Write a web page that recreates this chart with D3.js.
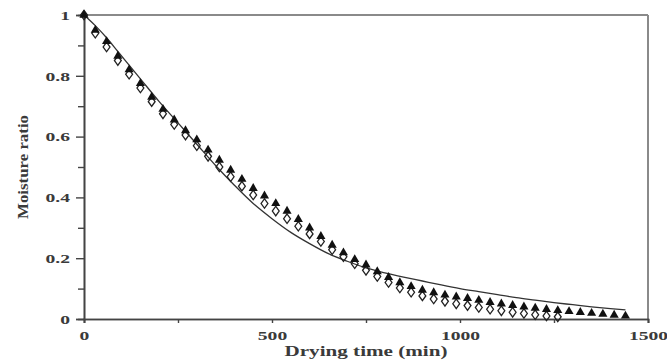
<!DOCTYPE html>
<html><head><meta charset="utf-8">
<script src="https://cdn.jsdelivr.net/npm/d3@7"></script>
<style>body{margin:0;background:#fff}svg{display:block}</style>
</head><body>
<script>
// Data (Moisture ratio vs drying time)
const triTimes = [0,30,60,90,120,150,180,210,240,270,300,330,360,390,420,450,480,510,540,570,600,630,660,690,720,750,780,810,840,870,900,930,960,990,1020,1050,1080,1110,1140,1170,1200,1230,1260,1290,1320,1350,1380,1410,1440];
const triValues = [1.0,0.95,0.913,0.865,0.82,0.775,0.73,0.69,0.655,0.62,0.59,0.556,0.523,0.49,0.46,0.43,0.405,0.38,0.355,0.328,0.30,0.272,0.243,0.218,0.196,0.178,0.156,0.137,0.12,0.107,0.095,0.087,0.079,0.073,0.068,0.062,0.055,0.05,0.045,0.04,0.036,0.032,0.028,0.025,0.022,0.019,0.016,0.013,0.01];
const diaTimes = [0,30,60,90,120,150,180,210,240,270,300,330,360,390,420,450,480,510,540,570,600,630,660,690,720,750,780,810,840,870,900,930,960,990,1020,1050,1080,1110,1140,1170,1200,1230,1260];
const diaValues = [1.0,0.94,0.895,0.85,0.805,0.76,0.715,0.675,0.64,0.605,0.57,0.535,0.50,0.468,0.437,0.408,0.38,0.355,0.33,0.305,0.28,0.255,0.228,0.205,0.182,0.16,0.14,0.12,0.102,0.088,0.076,0.066,0.058,0.05,0.044,0.038,0.032,0.027,0.022,0.018,0.014,0.01,0.007];
const modelTimes = [0,30,60,90,120,150,200,250,300,350,400,450,500,550,600,650,700,750,800,850,900,950,1000,1050,1100,1150,1200,1250,1300,1350,1400,1440];
const modelValues = [1.0,0.965,0.925,0.88,0.835,0.79,0.715,0.645,0.575,0.505,0.44,0.38,0.33,0.285,0.248,0.215,0.19,0.168,0.152,0.138,0.125,0.112,0.10,0.09,0.08,0.07,0.062,0.054,0.047,0.04,0.034,0.03];
const xTickLabels = [0,500,1000,1500];
const yTickLabels = [0,0.2,0.4,0.6,0.8,1];

const W=667,H=362;
const m={l:84,r:19,t:15,b:43};
const svg=d3.select("body").append("svg").attr("width",W).attr("height",H);
const x=d3.scaleLinear().domain([0,1500]).range([m.l,W-m.r]);
const y=d3.scaleLinear().domain([0,1]).range([H-m.b,m.t]);
const font='"Liberation Serif","DejaVu Serif",serif';
const SX=1.45;

// frame top/right
svg.append("line").attr("x1",x(0)).attr("x2",x(1500)).attr("y1",y(1)).attr("y2",y(1)).attr("stroke","#8a8a8a").attr("stroke-width",2);
svg.append("line").attr("x1",x(1500)).attr("x2",x(1500)).attr("y1",y(1)).attr("y2",y(0)).attr("stroke","#8a8a8a").attr("stroke-width",2);

// y axis
const yMinor=svg.append("g").attr("transform",`translate(${x(0)},0)`)
  .call(d3.axisLeft(y).tickValues([0.1,0.3,0.5,0.7,0.9]).tickSize(6).tickFormat(""));
const yAx=svg.append("g").attr("transform",`translate(${x(0)},0)`)
  .call(d3.axisLeft(y).tickValues(yTickLabels).tickSize(8).tickPadding(6).tickFormat(d=>d===0||d===1?d3.format("d")(d):d3.format(".1f")(d)));
// x axis
const xMinor=svg.append("g").attr("transform",`translate(0,${y(0)})`)
  .call(d3.axisBottom(x).tickValues([250,750,1250]).tickSize(4).tickFormat(""));
const xAx=svg.append("g").attr("transform",`translate(0,${y(0)})`)
  .call(d3.axisBottom(x).tickValues(xTickLabels).tickSize(4).tickPadding(7).tickFormat(d3.format("d")));
[yMinor,yAx,xMinor,xAx].forEach(g=>{
  g.select(".domain").attr("stroke","#444").attr("stroke-width",1.6);
  g.selectAll(".tick line").attr("stroke","#444").attr("stroke-width",1.4);
  g.selectAll("text").attr("font-family",font).attr("font-size",13.5).attr("font-weight","bold").attr("fill","#3a3a3a")
    .each(function(){const t=d3.select(this);const xv=+t.attr("x")||0;t.attr("x",xv/SX).attr("transform",`scale(${SX},1)`);});
});

// model line
const line=d3.line().x((d,i)=>x(modelTimes[i])).y((d,i)=>y(modelValues[i])).curve(d3.curveMonotoneX);
svg.append("path").datum(modelValues).attr("d",line).attr("fill","none").attr("stroke","#333").attr("stroke-width",1.3);

// diamonds (open)
const dia=d3.symbol().type(d3.symbolDiamond).size(26);
svg.append("g").selectAll("path").data(diaValues).join("path")
  .attr("transform",(d,i)=>`translate(${x(diaTimes[i])},${y(d)}) scale(1.25,1)`)
  .attr("d",dia).attr("fill","none").attr("stroke","#222").attr("stroke-width",1.1);
// triangles (filled)
const tri=d3.symbol().type(d3.symbolTriangle).size(36);
svg.append("g").selectAll("path").data(triValues).join("path")
  .attr("transform",(d,i)=>`translate(${x(triTimes[i])},${y(d)})`)
  .attr("d",tri).attr("fill","#111");

// titles
svg.append("text").attr("x",(x(0)+x(1500))/2).attr("y",356).attr("text-anchor","middle")
  .attr("font-family",font).attr("font-size",15).attr("font-weight","bold").attr("fill","#3a3a3a")
  .attr("textLength",163).attr("lengthAdjust","spacingAndGlyphs").text("Drying time (min)");
svg.append("text").attr("transform",`translate(28,${(y(0)+y(1))/2}) rotate(-90)`).attr("text-anchor","middle")
  .attr("font-family",font).attr("font-size",15).attr("font-weight","bold").attr("fill","#3a3a3a")
  .attr("textLength",104).attr("lengthAdjust","spacingAndGlyphs").text("Moisture ratio");
</script>
</body></html>
